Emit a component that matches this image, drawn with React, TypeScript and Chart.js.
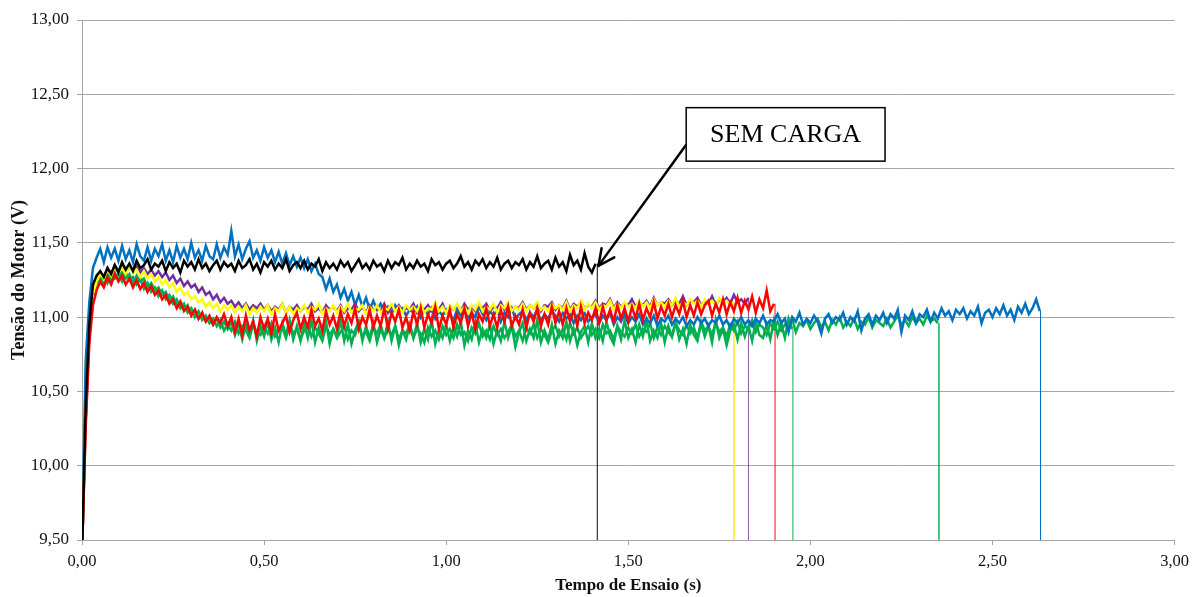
import { useEffect, useRef } from 'react';
import { Chart, registerables } from 'chart.js';

Chart.register(...registerables);

// Recorder sampling interval (s)
const STEP = 0.01;

// Axis ticks
const X_TICKS = [0, 0.5, 1, 1.5, 2, 2.5, 3];
const Y_TICKS = [9.5, 10, 10.5, 11, 11.5, 12, 12.5, 13];

// Motor voltage (V), one sample every STEP seconds, starting at t = 0
const semCarga = [
  9.40, 10.40, 10.95, 11.22, 11.28, 11.31, 11.27, 11.33, 11.29, 11.35, 11.30,
  11.37, 11.32, 11.36, 11.31, 11.38, 11.33, 11.35, 11.39, 11.32, 11.36,
  11.34, 11.38, 11.31, 11.37, 11.33, 11.36, 11.30, 11.38, 11.34, 11.37,
  11.32, 11.39, 11.33, 11.36, 11.31, 11.35, 11.38, 11.32, 11.37, 11.34,
  11.36, 11.31, 11.38, 11.33, 11.35, 11.39, 11.32, 11.36, 11.30, 11.37,
  11.34, 11.38, 11.32, 11.36, 11.33, 11.39, 11.31, 11.35, 11.37, 11.33,
  11.38, 11.32, 11.36, 11.34, 11.39, 11.31, 11.37, 11.33, 11.36, 11.32,
  11.38, 11.34, 11.37, 11.31, 11.35, 11.39, 11.33, 11.36, 11.32, 11.38,
  11.34, 11.36, 11.31, 11.38, 11.33, 11.37, 11.35, 11.40, 11.32, 11.36,
  11.33, 11.38, 11.34, 11.36, 11.31, 11.39, 11.35, 11.37, 11.32, 11.36,
  11.38, 11.33, 11.36, 11.41, 11.34, 11.37, 11.32, 11.38, 11.35, 11.39,
  11.33, 11.37, 11.34, 11.40, 11.32, 11.36, 11.38, 11.33, 11.37, 11.35,
  11.39, 11.32, 11.37, 11.34, 11.41, 11.33, 11.36, 11.38, 11.32, 11.40,
  11.34, 11.37, 11.31, 11.42, 11.35, 11.38, 11.32, 11.43, 11.34, 11.30, 11.36,
];

const carga1 = [
  9.40, 10.35, 10.92, 11.15, 11.24, 11.29, 11.26, 11.32, 11.28, 11.34, 11.30,
  11.33, 11.29, 11.35, 11.30, 11.32, 11.27, 11.31, 11.26, 11.29, 11.24,
  11.27, 11.22, 11.25, 11.20, 11.23, 11.17, 11.20, 11.15, 11.17, 11.12,
  11.14, 11.10, 11.12, 11.07, 11.10, 11.06, 11.09, 11.04, 11.08, 11.05,
  11.08, 11.03, 11.07, 11.04, 11.08, 11.02, 11.06, 11.03, 11.07, 11.04,
  11.08, 11.02, 11.06, 11.04, 11.09, 11.03, 11.07, 11.02, 11.06, 11.04,
  11.08, 11.03, 11.07, 11.05, 11.09, 11.02, 11.06, 11.04, 11.08, 11.03,
  11.07, 11.04, 11.09, 11.03, 11.06, 11.05, 11.08, 11.02, 11.07, 11.04,
  11.08, 11.03, 11.06, 11.05, 11.09, 11.04, 11.07, 11.03, 11.08, 11.05,
  11.07, 11.04, 11.09, 11.03, 11.06, 11.05, 11.10, 11.04, 11.07, 11.03,
  11.08, 11.05, 11.09, 11.04, 11.07, 11.03, 11.08, 11.05, 11.10, 11.04,
  11.07, 11.05, 11.09, 11.03, 11.08, 11.06, 11.10, 11.04, 11.07, 11.05,
  11.09, 11.04, 11.08, 11.06, 11.10, 11.05, 11.07, 11.04, 11.09, 11.06,
  11.08, 11.05, 11.10, 11.04, 11.08, 11.06, 11.11, 11.05, 11.09, 11.06,
  11.10, 11.05, 11.08, 11.07, 11.11, 11.05, 11.09, 11.06, 11.10, 11.07,
  11.09, 11.06, 11.11, 11.07, 11.10, 11.06, 11.12, 11.08, 11.10, 11.07,
  11.11, 11.08, 11.13, 11.07, 11.10, 11.08, 11.12, 11.09, 11.11, 11.07,
  11.12, 11.09, 11.11, 11.08, 11.13, 11.09, 11.11, 11.08, 11.10,
];

const carga2 = [
  9.40, 10.30, 10.90, 11.15, 11.25, 11.30, 11.27, 11.33, 11.29, 11.35, 11.31,
  11.36, 11.30, 11.34, 11.31, 11.35, 11.30, 11.33, 11.29, 11.32, 11.28,
  11.31, 11.27, 11.30, 11.25, 11.28, 11.23, 11.26, 11.21, 11.24, 11.20,
  11.22, 11.17, 11.20, 11.15, 11.17, 11.12, 11.15, 11.10, 11.13, 11.09,
  11.11, 11.07, 11.10, 11.06, 11.09, 11.05, 11.08, 11.06, 11.09, 11.05,
  11.08, 11.04, 11.07, 11.05, 11.09, 11.03, 11.07, 11.05, 11.08, 11.04,
  11.07, 11.05, 11.09, 11.04, 11.06, 11.03, 11.08, 11.05, 11.07, 11.04,
  11.08, 11.03, 11.06, 11.05, 11.09, 11.04, 11.07, 11.03, 11.08, 11.05,
  11.06, 11.04, 11.09, 11.03, 11.07, 11.05, 11.08, 11.04, 11.06, 11.05,
  11.09, 11.03, 11.07, 11.05, 11.08, 11.04, 11.06, 11.05, 11.09, 11.03,
  11.07, 11.05, 11.08, 11.04, 11.09, 11.05, 11.07, 11.04, 11.08, 11.06,
  11.09, 11.04, 11.07, 11.06, 11.10, 11.05, 11.08, 11.04, 11.07, 11.06,
  11.10, 11.05, 11.08, 11.06, 11.09, 11.04, 11.08, 11.07, 11.10, 11.05,
  11.08, 11.06, 11.11, 11.05, 11.09, 11.07, 11.10, 11.06, 11.08, 11.07,
  11.11, 11.06, 11.09, 11.08, 11.12, 11.06, 11.10, 11.07, 11.09, 11.08,
  11.12, 11.07, 11.10, 11.08, 11.11, 11.07, 11.13, 11.08, 11.10, 11.09,
  11.12, 11.08, 11.11, 11.09, 11.14, 11.08, 11.11, 11.10, 11.13, 11.08,
  11.11, 11.09, 11.14, 11.08, 11.12, 11.10, 11.13, 11.09, 11.15, 11.10,
  11.12, 11.09, 11.13,
];

const carga3 = [
  9.40, 10.25, 10.82, 11.08, 11.18, 11.24, 11.20, 11.27, 11.22, 11.29, 11.24,
  11.28, 11.22, 11.26, 11.20, 11.25, 11.19, 11.23, 11.17, 11.21, 11.15,
  11.18, 11.12, 11.15, 11.09, 11.12, 11.06, 11.10, 11.04, 11.07, 11.01,
  11.05, 10.99, 11.03, 10.97, 11.01, 10.95, 11.00, 10.96, 11.02, 10.94,
  11.00, 10.90, 10.99, 10.88, 11.01, 10.91, 10.97, 10.87, 11.00, 10.92,
  10.99, 10.89, 11.02, 10.91, 10.96, 11.01, 10.90, 10.98, 11.03, 10.92,
  11.00, 10.93, 11.05, 10.94, 10.99, 10.91, 11.04, 10.95, 11.01, 10.92,
  11.04, 10.94, 11.02, 10.96, 11.06, 10.92, 11.00, 10.95, 11.05, 10.93,
  11.01, 10.94, 11.06, 10.92, 11.03, 10.97, 11.05, 10.93, 11.00, 10.91,
  11.04, 10.95, 11.06, 10.93, 11.02, 10.96, 11.07, 10.92, 11.01, 10.95,
  11.05, 10.93, 11.02, 10.96, 11.06, 10.94, 11.03, 10.92, 11.02, 10.97,
  11.06, 10.94, 11.02, 10.93, 11.05, 10.97, 11.07, 10.94, 11.01, 10.95,
  11.05, 10.93, 11.03, 10.97, 11.06, 10.94, 11.02, 10.95, 11.07, 10.96,
  11.04, 10.95, 11.06, 10.97, 11.05, 10.94, 11.07, 10.96, 11.03, 10.98,
  11.06, 10.96, 11.07, 10.98, 11.05, 10.97, 11.08, 10.99, 11.06, 10.97,
  11.07, 10.99, 11.09, 10.98, 11.06, 11.00, 11.10, 10.99, 11.07, 11.01,
  11.09, 11.00, 11.08, 11.02, 11.11, 11.00, 11.08, 11.01, 11.10, 11.02,
  11.08, 11.11, 11.01, 11.09, 11.03, 11.12, 11.02, 11.10, 11.04, 11.13,
  11.03, 11.11, 11.05, 11.14, 11.03, 11.12, 11.06, 11.18, 11.04, 11.09,
];

const carga4 = [
  9.40, 10.35, 10.90, 11.12, 11.20, 11.26, 11.22, 11.29, 11.24, 11.30, 11.25,
  11.31, 11.26, 11.29, 11.23, 11.28, 11.24, 11.26, 11.20, 11.23, 11.18,
  11.20, 11.15, 11.17, 11.11, 11.14, 11.08, 11.11, 11.05, 11.08, 11.02,
  11.05, 10.99, 11.03, 10.97, 11.00, 10.95, 10.99, 10.93, 10.97, 10.92,
  10.97, 10.88, 10.96, 10.85, 10.95, 10.88, 10.98, 10.84, 10.94, 10.87,
  10.97, 10.85, 10.93, 10.83, 10.96, 10.88, 10.98, 10.85, 10.94, 10.84,
  10.96, 10.86, 10.98, 10.83, 10.93, 10.86, 10.97, 10.82, 10.92, 10.87,
  10.98, 10.84, 10.95, 10.82, 10.91, 10.97, 10.84, 10.94, 10.86, 10.96,
  10.83, 10.92, 10.86, 10.97, 10.84, 10.94, 10.81, 10.91, 10.85, 10.95,
  10.86, 10.96, 10.83, 10.92, 10.85, 10.98, 10.82, 10.91, 10.86, 10.95,
  10.84, 10.93, 10.87, 10.97, 10.81, 10.91, 10.85, 10.96, 10.83, 10.92,
  10.86, 10.95, 10.82, 10.91, 10.84, 10.97, 10.86, 10.94, 10.80, 10.90,
  10.96, 10.84, 10.92, 10.86, 10.98, 10.83, 10.91, 10.85, 10.95, 10.82,
  10.91, 10.86, 10.97, 10.84, 10.92, 10.81, 10.90, 10.94, 10.83, 10.96,
  10.86, 10.92, 10.84, 10.97, 10.87, 10.82, 10.94, 10.85, 10.98, 10.86,
  10.92, 10.83, 10.95, 10.87, 10.98, 10.84, 10.91, 10.86, 10.96, 10.83,
  10.94, 10.87, 10.97, 10.85, 10.92, 10.82, 10.95, 10.88, 10.84, 10.96,
  10.87, 10.94, 10.83, 10.98, 10.86, 10.92, 10.81, 10.91, 10.95, 10.85,
  10.96, 10.87, 10.94, 10.84, 10.97, 10.88, 10.86, 10.95, 10.85, 10.98,
  10.88, 10.96, 10.86, 10.99, 10.92,
];

const carga5 = [
  9.40, 10.30, 10.88, 11.10, 11.21, 11.24, 11.28, 11.23, 11.30, 11.26, 11.29,
  11.24, 11.30, 11.25, 11.27, 11.22, 11.26, 11.19, 11.23, 11.17, 11.20,
  11.14, 11.18, 11.12, 11.15, 11.09, 11.12, 11.06, 11.09, 11.03, 11.06,
  11.00, 11.04, 10.98, 11.01, 10.96, 10.99, 10.94, 10.98, 10.91, 10.95,
  10.91, 10.97, 10.89, 10.94, 10.91, 10.86, 10.95, 10.90, 10.88, 10.94,
  10.89, 10.96, 10.87, 10.91, 10.93, 10.86, 10.95, 10.89, 10.92, 10.85,
  10.91, 10.95, 10.87, 10.93, 10.89, 10.84, 10.94, 10.88, 10.92, 10.86,
  10.90, 10.94, 10.85, 10.91, 10.88, 10.96, 10.87, 10.90, 10.84, 10.93,
  10.89, 10.95, 10.86, 10.92, 10.88, 10.94, 10.85, 10.91, 10.89, 10.95,
  10.86, 10.92, 10.89, 10.83, 10.93, 10.87, 10.91, 10.85, 10.94, 10.88,
  10.92, 10.86, 10.95, 10.88, 10.90, 10.84, 10.93, 10.89, 10.96, 10.87,
  10.91, 10.85, 10.94, 10.88, 10.92, 10.86, 10.90, 10.95, 10.87, 10.91,
  10.84, 10.93, 10.89, 10.95, 10.86, 10.92, 10.88, 10.83, 10.91, 10.94,
  10.87, 10.92, 10.85, 10.96, 10.89, 10.93, 10.86, 10.90, 10.94, 10.88,
  10.92, 10.86, 10.95, 10.89, 10.91, 10.85, 10.94, 10.90, 10.87, 10.93,
  10.89, 10.95, 10.87, 10.92, 10.90, 10.96, 10.86, 10.93, 10.88, 10.94,
  10.90, 10.87, 10.96, 10.91, 10.88, 10.95, 10.89, 10.93, 10.86, 10.97,
  10.91, 10.94, 10.88, 10.96, 10.90, 10.93, 10.87, 10.95, 10.91, 10.97,
  10.89, 10.94, 10.92, 10.98, 10.90, 10.95, 10.93, 10.88, 10.96, 10.92,
  10.97, 10.91, 10.95, 10.93, 10.99, 10.90, 10.96, 10.94, 10.98, 10.92,
  10.96, 10.99, 10.93, 10.97, 10.91, 10.98, 10.95, 11.00, 10.93, 10.97,
  10.94, 10.99, 10.92, 10.97, 10.95, 11.00, 10.93, 10.98, 10.96, 10.94,
  10.99, 10.93, 10.97, 11.01, 10.95, 10.98, 10.94, 11.00, 10.96, 10.99,
  10.95, 11.01, 10.97, 10.99, 10.96,
];

const carga6 = [
  9.45, 10.70, 11.10, 11.33, 11.40, 11.46, 11.37, 11.47, 11.40, 11.46, 11.38,
  11.48, 11.39, 11.45, 11.37, 11.49, 11.41, 11.38, 11.47, 11.38, 11.46,
  11.41, 11.49, 11.38, 11.45, 11.37, 11.48, 11.40, 11.46, 11.39, 11.50,
  11.40, 11.45, 11.38, 11.48, 11.41, 11.39, 11.49, 11.40, 11.47, 11.42,
  11.58, 11.41, 11.49, 11.39, 11.46, 11.51, 11.40, 11.45, 11.38, 11.47,
  11.40, 11.45, 11.37, 11.44, 11.36, 11.43, 11.35, 11.41, 11.34, 11.40,
  11.33, 11.39, 11.31, 11.36, 11.29, 11.27, 11.19, 11.26, 11.17, 11.22,
  11.13, 11.19, 11.11, 11.17, 11.08, 11.15, 11.07, 11.13, 11.05, 11.11,
  11.05, 11.09, 11.03, 11.07, 11.02, 11.08, 11.04, 11.06, 11.01, 11.05,
  11.03, 11.07, 11.00, 11.05, 11.02, 11.06, 10.99, 11.04, 11.01, 11.05,
  11.02, 10.98, 11.05, 11.01, 11.06, 10.99, 11.03, 11.00, 11.07, 11.02,
  10.98, 11.04, 11.01, 11.05, 10.97, 11.03, 11.00, 11.06, 10.99, 11.02,
  11.04, 10.98, 11.03, 11.00, 11.05, 10.97, 11.02, 10.99, 11.04, 11.01,
  10.97, 11.03, 10.99, 11.02, 10.96, 11.01, 10.98, 11.03, 10.97, 11.00,
  11.02, 10.96, 11.01, 10.98, 11.03, 10.95, 11.00, 10.97, 11.02, 10.96,
  11.00, 10.97, 11.02, 10.95, 10.99, 10.96, 11.01, 10.94, 10.99, 10.97,
  11.01, 10.95, 10.99, 10.96, 11.00, 10.94, 10.98, 10.95, 11.00, 10.96,
  10.99, 10.94, 10.98, 10.96, 11.01, 10.95, 10.98, 10.93, 10.99, 10.96,
  11.00, 10.95, 10.98, 10.94, 10.99, 10.96, 11.01, 10.95, 10.98, 10.97,
  11.02, 10.96, 10.99, 10.90, 11.00, 10.97, 11.03, 10.95, 10.99, 10.96,
  11.01, 10.97, 10.89, 10.99, 11.02, 10.96, 11.00, 10.98, 11.03, 10.95,
  11.00, 10.97, 11.04, 10.91, 10.99, 11.02, 10.95, 11.01, 10.98, 11.03,
  10.96, 11.02, 10.99, 11.05, 10.90, 11.01, 10.98, 11.04, 10.96, 11.02,
  11.00, 11.05, 10.97, 11.03, 10.99, 11.06, 11.01, 11.04, 10.98, 11.05,
  11.02, 11.06, 10.99, 11.04, 11.01, 11.07, 10.96, 11.03, 11.05, 11.00,
  11.06, 11.02, 11.08, 11.01, 11.05, 10.98, 11.07, 11.03, 11.09, 11.02,
  11.06, 11.12, 11.04,
];

// Time (s) at which each run was switched off; the voltage then falls to zero
const END_SEM_CARGA = 1.415;
const END_CARGA = [1.79, 1.83, 1.903, 1.952, 2.353, 2.632];
const OFF_VOLTAGE = 0;

// "SEM CARGA" callout, placed in data units
const NOTE_TEXT = 'SEM CARGA';
const NOTE_BOX_X = [1.659, 2.205];
const NOTE_BOX_Y = [12.41, 12.05];
const NOTE_ARROW_FROM_Y = 12.16;
const NOTE_ARROW_TO = [1.418, 11.345];

const SERIF = '"Liberation Serif", "Times New Roman", Times, serif';
const AXIS_GRAY = '#a6a6a6';

function fmt(v: number) {
  return v.toFixed(2).replace('.', ',');
}

function traceDataset(values: number[], color: string) {
  return {
    data: values.map((v, i) => ({ x: Math.round(i * STEP * 1000) / 1000, y: v })),
    borderColor: color,
    borderWidth: 2.5,
    pointRadius: 0,
    tension: 0,
    clip: 0,
  };
}

// Fall from the last recorded value down to zero when the run stops
function dropDataset(values: number[], end: number, color: string) {
  return {
    data: [
      { x: end, y: values[values.length - 1] },
      { x: end, y: OFF_VOLTAGE },
    ],
    borderColor: color,
    borderWidth: 1,
    pointRadius: 0,
    tension: 0,
    clip: 0,
  };
}

const calloutPlugin = {
  id: 'semCargaCallout',
  afterDatasetsDraw(chart: any) {
    const { ctx } = chart;
    const xs = chart.scales.x;
    const ys = chart.scales.y;
    const bx0 = xs.getPixelForValue(NOTE_BOX_X[0]);
    const bx1 = xs.getPixelForValue(NOTE_BOX_X[1]);
    const by0 = ys.getPixelForValue(NOTE_BOX_Y[0]);
    const by1 = ys.getPixelForValue(NOTE_BOX_Y[1]);
    const ax0 = bx0;
    const ay0 = ys.getPixelForValue(NOTE_ARROW_FROM_Y);
    const ax1 = xs.getPixelForValue(NOTE_ARROW_TO[0]);
    const ay1 = ys.getPixelForValue(NOTE_ARROW_TO[1]);

    ctx.save();
    ctx.strokeStyle = '#000';
    ctx.lineWidth = 2.5;
    ctx.lineCap = 'round';
    ctx.lineJoin = 'round';
    ctx.beginPath();
    ctx.moveTo(ax0, ay0);
    ctx.lineTo(ax1, ay1);
    ctx.stroke();

    const ang = Math.atan2(ay0 - ay1, ax0 - ax1);
    const headLen = 18;
    const spread = 0.45;
    ctx.beginPath();
    ctx.moveTo(ax1 + headLen * Math.cos(ang - spread), ay1 + headLen * Math.sin(ang - spread));
    ctx.lineTo(ax1, ay1);
    ctx.lineTo(ax1 + headLen * Math.cos(ang + spread), ay1 + headLen * Math.sin(ang + spread));
    ctx.stroke();

    ctx.fillStyle = '#fff';
    ctx.fillRect(bx0, by0, bx1 - bx0, by1 - by0);
    ctx.lineWidth = 1.5;
    ctx.lineCap = 'butt';
    ctx.lineJoin = 'miter';
    ctx.strokeRect(bx0, by0, bx1 - bx0, by1 - by0);

    ctx.fillStyle = '#000';
    ctx.font = `26px ${SERIF}`;
    ctx.textAlign = 'center';
    ctx.textBaseline = 'middle';
    ctx.fillText(NOTE_TEXT, (bx0 + bx1) / 2, (by0 + by1) / 2 + 1);
    ctx.restore();
  },
};

export default function App() {
  const canvasRef = useRef<HTMLCanvasElement | null>(null);

  useEffect(() => {
    const canvas = canvasRef.current;
    if (!canvas) return;

    // First dataset is drawn on top
    const datasets = [
      traceDataset(semCarga, '#000000'),
      traceDataset(carga3, '#ff0000'),
      traceDataset(carga1, '#ffff00'),
      traceDataset(carga2, '#7030a0'),
      traceDataset(carga6, '#0070c0'),
      traceDataset(carga4, '#00b050'),
      traceDataset(carga5, '#00b050'),
      dropDataset(semCarga, END_SEM_CARGA, 'rgba(0,0,0,0.45)'),
      dropDataset(carga1, END_CARGA[0], 'rgba(255,240,0,0.7)'),
      dropDataset(carga2, END_CARGA[1], 'rgba(112,48,160,0.4)'),
      dropDataset(carga3, END_CARGA[2], 'rgba(255,0,0,0.4)'),
      dropDataset(carga4, END_CARGA[3], 'rgba(0,176,80,0.4)'),
      dropDataset(carga5, END_CARGA[4], 'rgba(0,176,80,0.7)'),
      dropDataset(carga6, END_CARGA[5], 'rgba(0,112,192,0.75)'),
    ];

    const chart = new Chart(canvas, {
      type: 'line',
      data: { datasets },
      plugins: [calloutPlugin],
      options: {
        animation: false,
        responsive: true,
        maintainAspectRatio: false,
        layout: { padding: { top: 20, right: 20, left: 0, bottom: 0 } },
        plugins: {
          legend: { display: false },
          tooltip: { enabled: false },
        },
        scales: {
          x: {
            type: 'linear',
            min: X_TICKS[0],
            max: X_TICKS[X_TICKS.length - 1],
            afterBuildTicks: (s: any) => {
              s.ticks = X_TICKS.map((value) => ({ value }));
            },
            afterFit: (s: any) => {
              s.height = 57;
            },
            grid: {
              drawOnChartArea: false,
              drawTicks: true,
              tickLength: 5,
              color: AXIS_GRAY,
            },
            border: { display: true, color: AXIS_GRAY },
            ticks: {
              autoSkip: false,
              maxRotation: 0,
              padding: 7,
              color: '#111',
              font: { family: SERIF, size: 16.5 },
              callback: (v: any) => fmt(Number(v)),
            },
            title: {
              display: true,
              text: 'Tempo de Ensaio (s)',
              color: '#111',
              font: { family: SERIF, size: 17, weight: 'bold' },
              padding: { top: 0, bottom: 1 },
            },
          },
          y: {
            type: 'linear',
            min: Y_TICKS[0],
            max: Y_TICKS[Y_TICKS.length - 1],
            afterBuildTicks: (s: any) => {
              s.ticks = Y_TICKS.map((value) => ({ value }));
            },
            afterFit: (s: any) => {
              s.width = 82;
            },
            grid: {
              drawTicks: true,
              tickLength: 5,
              color: AXIS_GRAY,
              lineWidth: 1,
            },
            border: { display: true, color: AXIS_GRAY },
            ticks: {
              autoSkip: false,
              padding: 8,
              color: '#111',
              font: { family: SERIF, size: 17 },
              callback: (v: any) => fmt(Number(v)),
            },
            title: {
              display: true,
              text: 'Tensão do Motor (V)',
              color: '#111',
              font: { family: SERIF, size: 18, weight: 'bold' },
              padding: { top: 9, bottom: 0 },
            },
          },
        },
      } as any,
    });

    return () => chart.destroy();
  }, []);

  return (
    <div style={{ position: 'fixed', left: 0, top: 0, width: 1196, height: 597, background: '#fff' }}>
      <canvas ref={canvasRef} />
    </div>
  );
}
